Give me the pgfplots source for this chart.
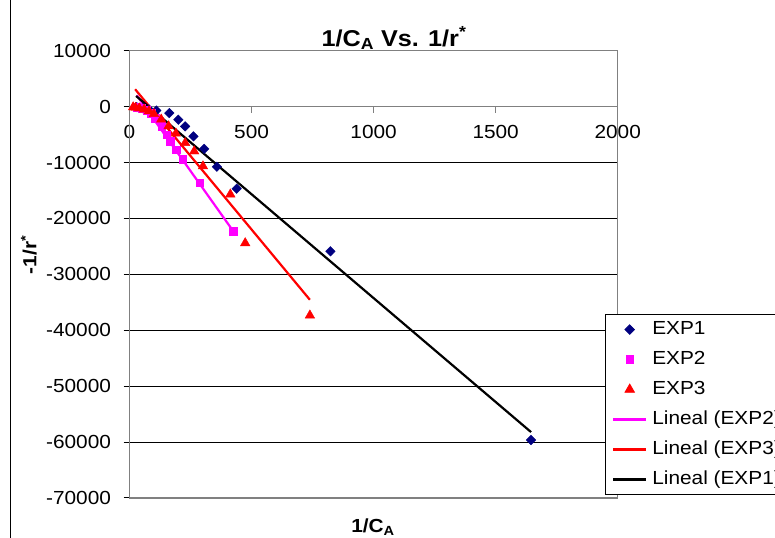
\documentclass[border=0pt]{standalone}
\usepackage{fontspec}
\setmainfont{Liberation Sans}[FakeStretch=1.1]
\usepackage{pgfplots}
\pgfplotsset{compat=1.18}
\definecolor{navyexp}{HTML}{000080}
\definecolor{magexp}{HTML}{FF00FF}
\definecolor{redexp}{HTML}{FF0000}
\definecolor{borderg}{HTML}{808080}
\pgfplotsset{legend image code/.code={\draw[mark repeat=2,mark phase=2,#1] plot coordinates {(0bp,0bp) (16.5bp,0bp) (33bp,0bp)};}}
\begin{document}
\begin{tikzpicture}[x=1bp,y=1bp]
\path[use as bounding box] (0,0) rectangle (775,538);
\draw[line width=1bp] (10.5,0) -- (10.5,538);
\begin{axis}[
  at={(129.5bp,40bp)}, anchor=south west, scale only axis,
  width=488.2bp, height=447.3bp,
  xmin=0, xmax=2000, ymin=-70000, ymax=10000,
  axis x line=middle, axis y line=left,
  x axis line style={-, draw=borderg, line width=1.3bp},
  y axis line style={-, draw=black, line width=1bp},
  xtick={0,500,...,2000}, ytick={-70000,-60000,...,10000},
  scaled ticks=false,
  /pgf/number format/.cd, 1000 sep={}, assume math mode=true, /pgfplots/.cd,
  tick label style={font=\fontsize{19}{22}\selectfont},
  xticklabel style={yshift=-9bp},
  yticklabel style={xshift=-9bp},
  ymajorgrids, grid style={black, line width=0.8bp},
  tick align=outside, major tick length=6bp,
  xtick style={draw=borderg, line width=1.3bp},
  ytick style={draw=black, line width=1bp},
  hide obscured x ticks=false, hide obscured y ticks=false,
  clip=false,
  legend style={at={(0.9734,0.0067)}, anchor=south west, draw=black, line width=0.8bp,
    fill=white, font=\fontsize{19}{22}\selectfont, row sep=12bp,
    inner xsep=7bp, inner ysep=6bp,
    nodes={inner sep=0pt, text height=14bp, text depth=4bp},
    /tikz/every odd column/.append style={column sep=5bp}},
  legend cell align=left,
]
\draw[borderg, line width=1.3bp] (rel axis cs:0,0) rectangle (rel axis cs:1,1);
% EXP1
\addplot[only marks, mark=diamond*, mark size=4.8bp, mark options={xscale=1.33, fill=navyexp, draw=navyexp}]
 coordinates {(30,-100) (55,-300) (80,-500) (110,-700) (163,-1156) (200,-2350) (228,-3540) (262,-5320) (306,-7560) (358,-10760) (439,-14680) (823,-25880) (1645,-59630)};
\addlegendentry{EXP1}
% EXP2
\addplot[only marks, mark=square*, mark size=3.8bp, mark options={fill=magexp, draw=magexp}]
 coordinates {(30,-100) (50,-300) (70,-600) (90,-1200) (105,-2050) (132,-3540) (153,-5020) (166,-6210) (191,-7690) (218,-9460) (287,-13610) (424,-22330)};
\addlegendentry{EXP2}
% EXP3
\addplot[only marks, mark=triangle*, mark size=5.5bp, mark options={fill=redexp, draw=redexp}]
 coordinates {(15,-100) (25,-200) (40,-300) (60,-500) (80,-800) (100,-1300) (130,-2300) (160,-3500) (190,-4800) (228,-6490) (265,-7990) (301,-10660) (413,-15690) (474,-24410) (739,-37340)};
\addlegendentry{EXP3}
% trendlines
\addplot[magexp, line width=2.2bp, no marks] coordinates {(30,2015) (424,-22216)};
\addlegendentry{Lineal (EXP2)}
\addplot[redexp, line width=2.2bp, no marks] coordinates {(23,3110) (739,-34550)};
\addlegendentry{Lineal (EXP3)}
\addplot[black, line width=2.2bp, no marks] coordinates {(27,1897) (1645,-58212)};
\addlegendentry{Lineal (EXP1)}
\end{axis}
\node[font=\fontsize{23}{26}\selectfont\bfseries] at (394,500) {1/C\textsubscript{A} Vs. 1/r\textsuperscript{*}};
\node[font=\fontsize{19}{22}\selectfont\bfseries, rotate=90] at (29,283) {-1/r\textsuperscript{*}};
\node[font=\fontsize{19}{22}\selectfont\bfseries] at (373,11) {1/C\textsubscript{A}};
\end{tikzpicture}
\end{document}
